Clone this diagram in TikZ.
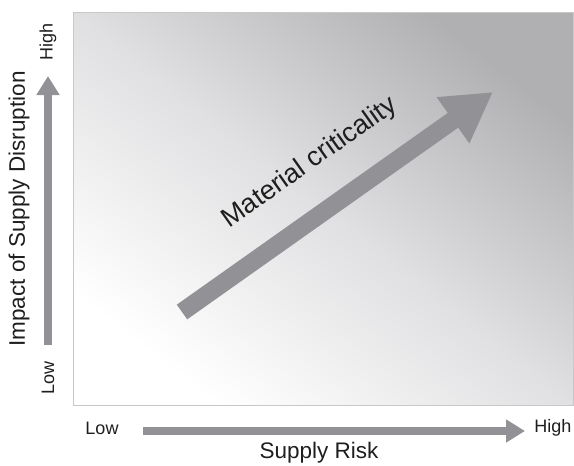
\documentclass[tikz,border=0pt]{standalone}
\usepackage{fontspec}
\setmainfont{Liberation Sans}
\usepackage{tikz}
\usetikzlibrary{arrows.meta,positioning,calc}
\definecolor{crgray}{RGB}{146,146,150}
\definecolor{crtext}{RGB}{30,30,30}
\definecolor{crlight}{RGB}{255,255,255}
\definecolor{crmid}{RGB}{224,224,226}
\definecolor{crdark}{RGB}{176,176,178}
\definecolor{crframe}{RGB}{200,200,200}

\begin{document}
\begin{tikzpicture}[
    x=1pt, y=-1pt,
    axisarr/.style={line width=7.5pt, crgray, -{Triangle[length=19pt, width=22pt]}},
    bigarr/.style={line width=18pt, crgray, -{Triangle[length=49pt, width=53pt]}},
    endlbl/.style={font=\fontsize{18}{20}\selectfont, text=crtext, inner sep=0pt},
    axislbl/.style={font=\fontsize{22.5}{26}\selectfont, text=crtext, inner sep=0pt}
  ]
    \useasboundingbox (0,0) rectangle (574,466);

    % shaded field
    \shade[shading=axis, top color=crdark, bottom color=crlight, middle color=crmid,
      shading angle=-38]
      (73,12) rectangle (573,405);
    \draw[crframe, line width=1pt] (73,12) rectangle (573,405);

    % vertical axis
    \node[endlbl, rotate=90] (yhigh) at (48,42)  {High};
    \node[endlbl, rotate=90] (ylow)  at (48,378) {Low};
    \node[axislbl, rotate=90] (ylab) at (19,209) {Impact of Supply Disruption};
    \coordinate (ybot) at (48,345);
    \coordinate (ytop) at (48,76);
    \draw[axisarr] (ybot) -- (ytop);

    % horizontal axis
    \node[endlbl] (xlow)  at (102,428) {Low};
    \node[endlbl] (xhigh) at (553,428) {High};
    \node[axislbl] (xlab) at (319,453) {Supply Risk};
    \coordinate (xleft)  at (143,431);
    \coordinate (xright) at (525,431);
    \draw[axisarr] (xleft) -- (xright);

    % criticality arrow
    \coordinate (mcstart) at (182,312);
    \coordinate (mcend)   at (493,92);
    \draw[bigarr] (mcstart) -- (mcend);
    \path (mcstart) -- (mcend)
      node[pos=0.5, sloped, above=35pt, inner sep=0pt, text=crtext,
           font=\fontsize{27}{30}\selectfont] (mclab) {Material criticality};
  \end{tikzpicture}
\end{document}
